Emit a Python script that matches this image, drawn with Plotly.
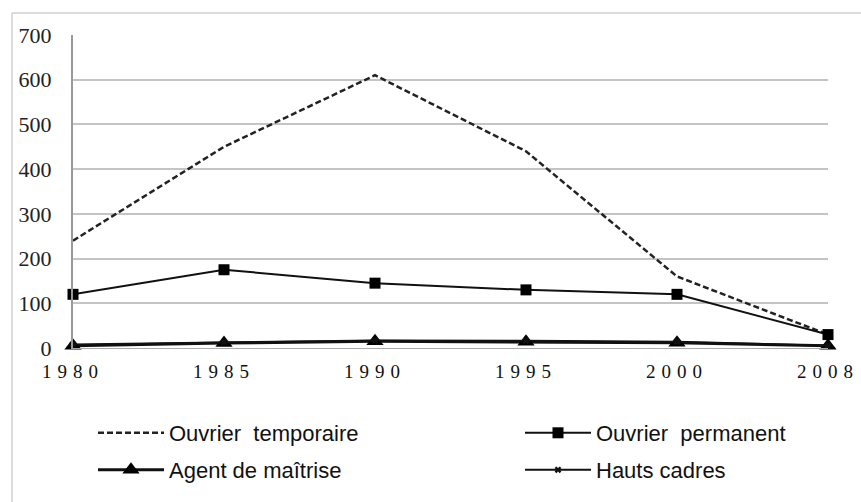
import plotly.graph_objects as go

years = ["1980", "1985", "1990", "1995", "2000", "2008"]
ouvrier_temporaire = [240, 450, 610, 440, 160, 30]
ouvrier_permanent = [120, 175, 145, 130, 120, 30]
agent_maitrise = [5, 11, 15, 14, 12, 5]
hauts_cadres = [8, 13, 17, 16, 14, 5]
y_ticks = [0, 100, 200, 300, 400, 500, 600, 700]

W, H = 861, 502
L, R, T, B = 73, 33, 35, 154

fig = go.Figure()
fig.add_trace(go.Scatter(x=years, y=ouvrier_temporaire, mode="lines",
                         name="Ouvrier\u00a0 temporaire", legend="legend",
                         line=dict(color="#222", width=2.5, dash="6px,3px"), cliponaxis=False))
fig.add_trace(go.Scatter(x=years, y=ouvrier_permanent, mode="lines+markers",
                         name="Ouvrier\u00a0 permanent", legend="legend2",
                         line=dict(color="#111", width=2),
                         marker=dict(symbol="square", size=11, color="#000"), cliponaxis=False))
fig.add_trace(go.Scatter(x=years, y=agent_maitrise, mode="lines+markers",
                         name="Agent de maîtrise", legend="legend3",
                         line=dict(color="#111", width=3),
                         marker=dict(symbol="triangle-up", size=15, color="#000"), cliponaxis=False))
fig.add_trace(go.Scatter(x=years, y=hauts_cadres, mode="lines+markers",
                         name="Hauts cadres", legend="legend4",
                         line=dict(color="#111", width=2),
                         marker=dict(symbol="x", size=6, color="#111",
                                     line=dict(width=0)), cliponaxis=False))

tick_text = ['<span style="letter-spacing:6px">%s</span>' % y for y in years]

def ypaper(py):
    return (H - B - py) / (H - T - B)

def xpaper(px):
    return (px - L) / (W - L - R)

leg_common = dict(orientation="h", xanchor="left", yanchor="middle",
                  font=dict(family="Liberation Sans, Arial, sans-serif", size=22, color="#111"),
                  bgcolor="rgba(0,0,0,0)", itemwidth=66,
                  traceorder="normal", itemclick=False)

fig.update_layout(
    width=W, height=H,
    margin=dict(l=L, r=R, t=T, b=B, pad=0, autoexpand=False),
    paper_bgcolor="white", plot_bgcolor="white",
    showlegend=True,
    legend=dict(x=xpaper(93), y=ypaper(433), **leg_common),
    legend2=dict(x=xpaper(520), y=ypaper(433), **leg_common),
    legend3=dict(x=xpaper(93), y=ypaper(470), **leg_common),
    legend4=dict(x=xpaper(520), y=ypaper(470), **leg_common),
    xaxis=dict(type="category", range=[0, 5], tickmode="array",
               tickvals=years, ticktext=tick_text, automargin=False,
               tickfont=dict(family="Liberation Serif, Times New Roman, serif", size=19, color="#111"),
               showgrid=False, showline=True, linecolor="#aaa", linewidth=1,
               ticks="", ticklabelstandoff=6, zeroline=False),
    yaxis=dict(range=[0, 700], tickmode="array", tickvals=y_ticks, automargin=False,
               tickfont=dict(family="Liberation Serif, Times New Roman, serif", size=22, color="#222"),
               showgrid=True, gridcolor="#c4c4c4", gridwidth=1.5,
               showline=True, linecolor="#999", linewidth=2,
               ticks="", ticklabelstandoff=15, zeroline=False),
    shapes=[
        dict(type="line", xref="paper", yref="paper",
             x0=xpaper(12), x1=xpaper(880), y0=ypaper(13), y1=ypaper(13),
             line=dict(color="#d0d0d0", width=1.5)),
        dict(type="line", xref="paper", yref="paper",
             x0=xpaper(12), x1=xpaper(12), y0=ypaper(13), y1=ypaper(520),
             line=dict(color="#d0d0d0", width=1.5)),
    ],
)

fig.write_html("out.html", config={"displayModeBar": False},
               post_script="document.body.style.margin='0';")
